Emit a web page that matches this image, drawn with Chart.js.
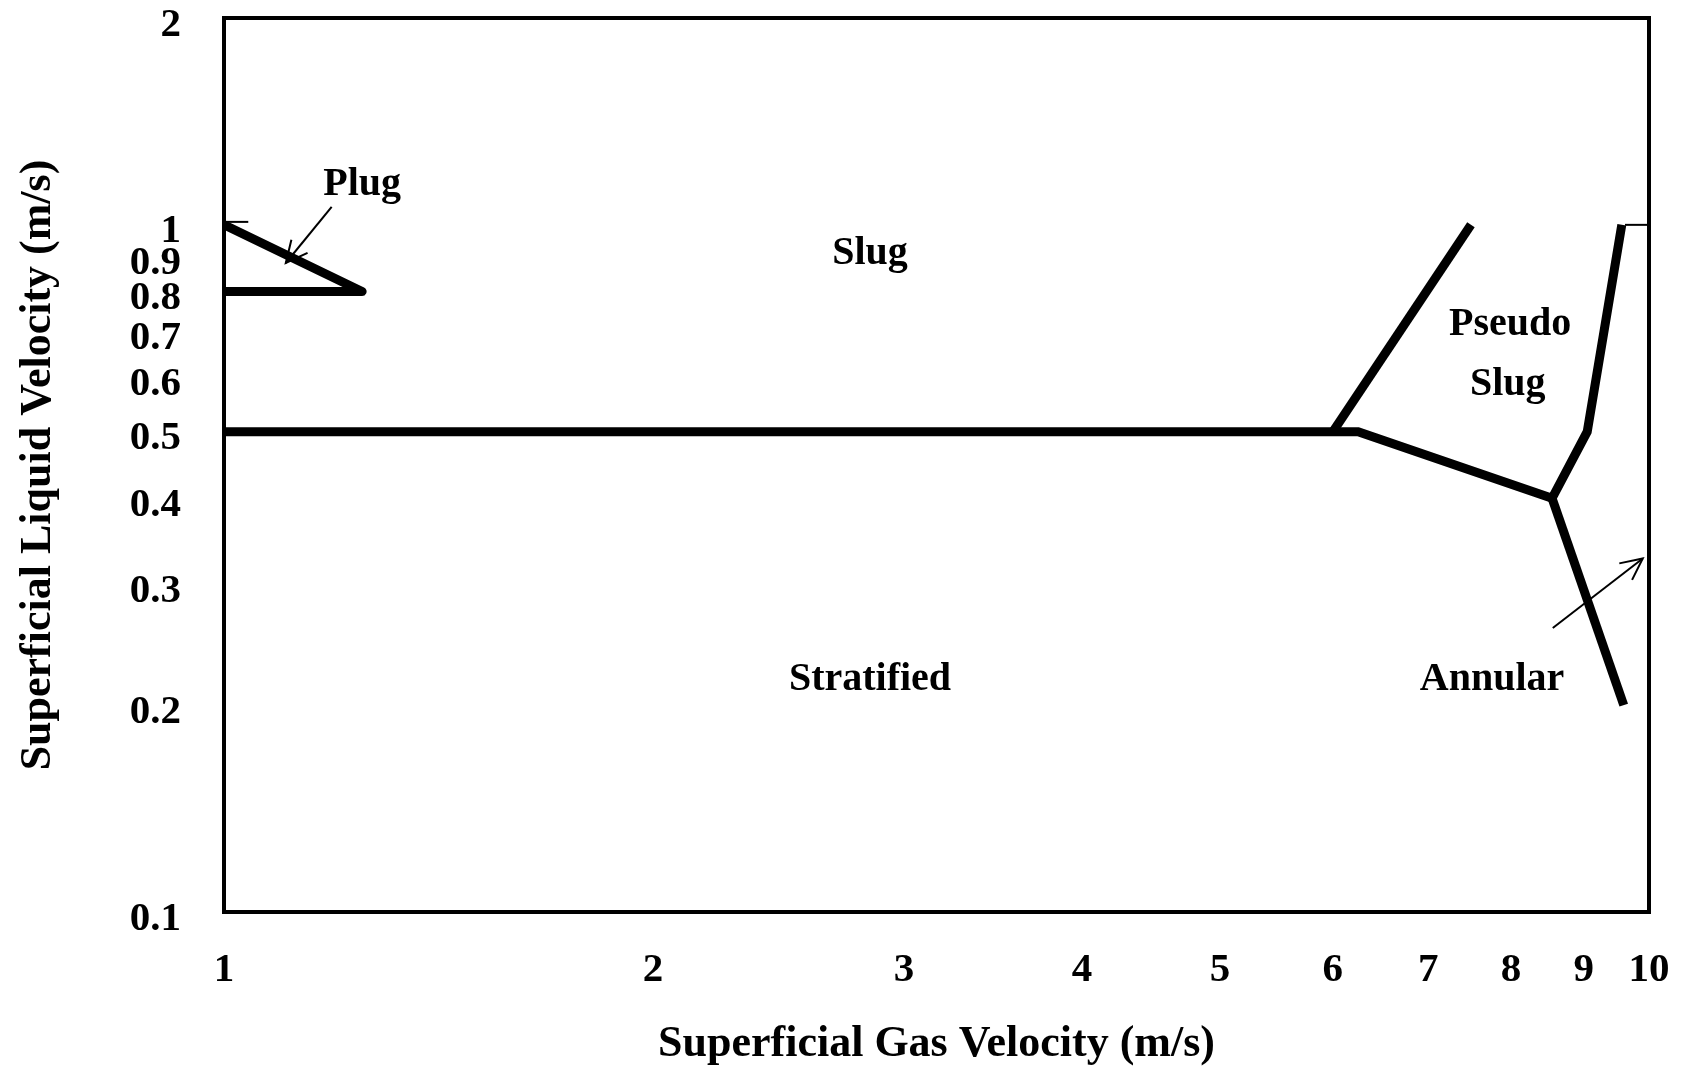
<!DOCTYPE html>
<html>
<head>
<meta charset="utf-8">
<title>Flow regime map</title>
<script src="https://cdn.jsdelivr.net/npm/chart.js@4.4.1/dist/chart.umd.min.js"></script>
<style>
  html, body { margin: 0; padding: 0; background: #fff; }
  canvas { display: block; }
</style>
</head>
<body>
<canvas id="flowMap" width="1689" height="1071"></canvas>
<script>
const xTicks = [1, 2, 3, 4, 5, 6, 7, 8, 9, 10];
const yTicks = [0.1, 0.2, 0.3, 0.4, 0.5, 0.6, 0.7, 0.8, 0.9, 1, 2];

// boundaries (gas velocity, liquid velocity)
const plugGas = [1, 1.25, 1];
const plugLiq = [1.0, 0.8, 0.8];
const stratGas = [1, 6.25, 8.55, 9.05, 9.57];
const stratLiq = [0.5, 0.5, 0.4, 0.5, 1.0];
const pseudoGas = [6.0, 7.5];
const pseudoLiq = [0.5, 1.0];
const annularGas = [8.55, 9.6];
const annularLiq = [0.4, 0.2];

// little thin stubs at velocity 1
const stubGas = [[1, 1.04], [9.62, 10]];
const stubLiq = [[1.01, 1.01], [1.0, 1.0]];

// pointer arrows, tail -> head
const arrowGas = [[1.19, 1.105], [8.56, 9.9]];
const arrowLiq = [[1.062, 0.88], [0.259, 0.327]];

// region names
const regionNames = ['Plug', 'Slug', 'Pseudo', 'Slug', 'Stratified', 'Annular'];
const regionGas = [1.25, 2.84, 7.99, 7.96, 2.84, 7.76];
const regionLiq = [1.143, 0.907, 0.715, 0.585, 0.218, 0.218];

const serif = '"Liberation Serif", "Times New Roman", serif';
const tickFont = { family: serif, size: 41, weight: 'bold' };
const titleFont = { family: serif, size: 44, weight: 'bold' };

function toPoints(xs, ys) {
    return xs.map((v, i) => ({ x: v, y: ys[i] }));
}

function boundary(xs, ys, width, join) {
    return {
        data: toPoints(xs, ys),
        borderColor: '#000',
        borderWidth: width,
        borderJoinStyle: join || 'miter',
        borderCapStyle: 'butt',
        pointRadius: 0,
        showLine: true,
        fill: false,
        tension: 0
    };
}

const datasets = [
    boundary(plugGas, plugLiq, 9, 'round'),
    boundary(stratGas, stratLiq, 9),
    boundary(pseudoGas, pseudoLiq, 9),
    boundary(annularGas, annularLiq, 9)
];
stubGas.forEach((g, i) => datasets.push(boundary(g, stubLiq[i], 2)));
arrowGas.forEach((g, i) => datasets.push(boundary(g, arrowLiq[i], 2)));

// plot frame, arrow heads and region names
const mapDecor = {
    id: 'mapDecor',
    beforeDatasetsDraw(chart) {
        const { ctx, chartArea: a } = chart;
        ctx.save();
        ctx.strokeStyle = '#000';
        ctx.lineWidth = 4;
        ctx.strokeRect(a.left, a.top, a.right - a.left, a.bottom - a.top);
        ctx.restore();
    },
    afterDatasetsDraw(chart) {
        const { ctx, scales: { x, y } } = chart;
        ctx.save();
        ctx.strokeStyle = '#000';
        ctx.lineWidth = 2;
        arrowGas.forEach((g, i) => {
            const x0 = x.getPixelForValue(g[0]), y0 = y.getPixelForValue(arrowLiq[i][0]);
            const x1 = x.getPixelForValue(g[1]), y1 = y.getPixelForValue(arrowLiq[i][1]);
            const ang = Math.atan2(y1 - y0, x1 - x0);
            const len = 24;
            ctx.beginPath();
            ctx.moveTo(x1 - len * Math.cos(ang - 0.45), y1 - len * Math.sin(ang - 0.45));
            ctx.lineTo(x1, y1);
            ctx.lineTo(x1 - len * Math.cos(ang + 0.45), y1 - len * Math.sin(ang + 0.45));
            ctx.stroke();
        });
        ctx.fillStyle = '#000';
        ctx.font = 'bold 40px ' + serif;
        ctx.textAlign = 'center';
        ctx.textBaseline = 'middle';
        regionNames.forEach((name, i) => {
            ctx.fillText(name, x.getPixelForValue(regionGas[i]), y.getPixelForValue(regionLiq[i]));
        });
        ctx.restore();
    }
};

new Chart(document.getElementById('flowMap'), {
    type: 'scatter',
    data: { datasets },
    options: {
        responsive: false,
        animation: false,
        layout: { padding: { left: 0, top: 18, right: 40, bottom: 0 } },
        plugins: { legend: { display: false }, tooltip: { enabled: false } },
        scales: {
            x: {
                type: 'logarithmic',
                min: 1,
                max: 10,
                grid: { display: false, drawTicks: false },
                border: { display: false },
                afterBuildTicks: s => { s.ticks = xTicks.map(v => ({ value: v })); },
                afterFit: s => { s.height = 159; s.paddingLeft = 0; s.paddingRight = 0; },
                ticks: { autoSkip: false, maxRotation: 0, padding: 34, color: '#000', font: tickFont, callback: v => String(v) },
                title: { display: true, text: 'Superficial Gas Velocity (m/s)', color: '#000', font: titleFont, padding: { top: 0, bottom: 0 } }
            },
            y: {
                type: 'logarithmic',
                min: 0.1,
                max: 2,
                grid: { display: false, drawTicks: false },
                border: { display: false },
                afterBuildTicks: s => { s.ticks = yTicks.map(v => ({ value: v })); },
                afterFit: s => { s.width = 224; s.paddingTop = 0; s.paddingBottom = 0; },
                ticks: { autoSkip: false, padding: 43, labelOffset: 7, color: '#000', font: tickFont, callback: v => String(v) },
                title: { display: true, text: 'Superficial Liquid Velocity (m/s)', color: '#000', font: titleFont, padding: { top: 12, bottom: 0 } }
            }
        }
    },
    plugins: [mapDecor]
});
</script>
</body>
</html>
